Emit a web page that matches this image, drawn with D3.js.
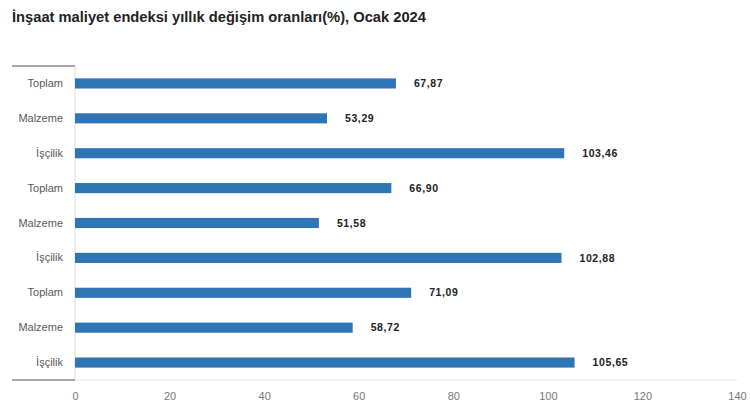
<!DOCTYPE html>
<html>
<head>
<meta charset="utf-8">
<script src="https://cdn.jsdelivr.net/npm/d3@7"></script>
<style>
  body { margin: 0; background: #fff; }
  svg { display: block; }
</style>
</head>
<body>
<div class="chart"></div>
<script>
// Chart data
var categories = ["Toplam", "Malzeme", "İşçilik", "Toplam", "Malzeme", "İşçilik", "Toplam", "Malzeme", "İşçilik"];
var values = [67.87, 53.29, 103.46, 66.90, 51.58, 102.88, 71.09, 58.72, 105.65];
var valueLabels = ["67,87", "53,29", "103,46", "66,90", "51,58", "102,88", "71,09", "58,72", "105,65"];
var xTicks = [0, 20, 40, 60, 80, 100, 120, 140];
var title = "İnşaat maliyet endeksi yıllık değişim oranları(%), Ocak 2024";

// Chart dimensions
var svgWidth = 750;
var svgHeight = 406;
var margin = { top: 66, right: 13, bottom: 26, left: 75 };
var width = svgWidth - margin.left - margin.right;
var height = svgHeight - margin.top - margin.bottom;

var svg = d3.select(".chart")
  .append("svg")
  .attr("width", svgWidth)
  .attr("height", svgHeight);

// Title
svg.append("text")
  .attr("x", 12)
  .attr("y", 22)
  .attr("font-family", "Liberation Sans, Arial, sans-serif")
  .attr("font-weight", "bold")
  .attr("font-size", 14.7)
  .attr("fill", "#222")
  .text(title);

var chartGroup = svg.append("g")
  .attr("transform", `translate(${margin.left}, ${margin.top})`);

// Scales
var xScale = d3.scaleLinear().domain([0, 140]).range([0, width]);
var yScale = d3.scaleBand()
  .domain(d3.range(categories.length))
  .range([0, height])
  .paddingInner(0.71)
  .paddingOuter(0.355);

// Faint baseline / left axis
chartGroup.append("line")
  .attr("x1", 0).attr("x2", width)
  .attr("y1", height).attr("y2", height)
  .attr("stroke", "#e6e6e6");
chartGroup.append("line")
  .attr("x1", 0).attr("x2", 0)
  .attr("y1", 0).attr("y2", height)
  .attr("stroke", "#dcdcdc");

// Dark bracket lines at top and bottom of the category column
chartGroup.append("line")
  .attr("x1", -63).attr("x2", 0)
  .attr("y1", 0).attr("y2", 0)
  .attr("stroke", "#555").attr("stroke-width", 1.2);
chartGroup.append("line")
  .attr("x1", -63).attr("x2", 0)
  .attr("y1", height).attr("y2", height)
  .attr("stroke", "#555").attr("stroke-width", 1.2);

// X axis
var xAxis = d3.axisBottom(xScale).tickValues(xTicks).tickSize(0).tickPadding(12);
var xg = chartGroup.append("g")
  .attr("transform", `translate(0, ${height})`)
  .call(xAxis);
xg.select(".domain").remove();
xg.selectAll("text")
  .attr("font-family", "Liberation Sans Narrow, Liberation Sans, Arial, sans-serif")
  .attr("font-size", 11)
  .attr("fill", "#777");

// Y axis (category labels)
var yAxis = d3.axisLeft(yScale).tickSize(0).tickPadding(12).tickFormat(i => categories[i]);
var yg = chartGroup.append("g").call(yAxis);
yg.select(".domain").remove();
yg.selectAll("text")
  .attr("font-family", "Liberation Sans, Arial, sans-serif")
  .attr("font-size", 11)
  .attr("fill", "#595959");

// Bars
chartGroup.selectAll("rect.bar")
  .data(values)
  .enter()
  .append("rect")
  .attr("class", "bar")
  .attr("x", 0)
  .attr("y", (d, i) => yScale(i))
  .attr("width", d => xScale(d))
  .attr("height", yScale.bandwidth())
  .attr("fill", "#2e75b6");

// Value labels
chartGroup.selectAll("text.value")
  .data(values)
  .enter()
  .append("text")
  .attr("class", "value")
  .attr("x", d => xScale(d) + 18)
  .attr("y", (d, i) => yScale(i) + yScale.bandwidth() / 2)
  .attr("dy", "0.35em")
  .attr("font-family", "Liberation Sans, Arial, sans-serif")
  .attr("font-weight", "bold")
  .attr("font-size", 10.5)
  .attr("letter-spacing", 0.6)
  .attr("fill", "#222")
  .text((d, i) => valueLabels[i]);
</script>
</body>
</html>
